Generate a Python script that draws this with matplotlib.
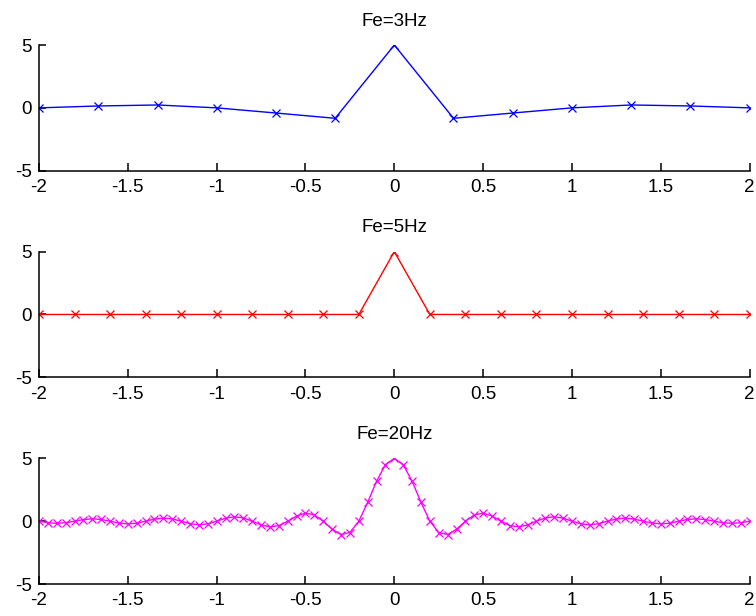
import matplotlib
matplotlib.use("Agg")
import matplotlib.pyplot as plt

plt.rcParams['font.family'] = ['Liberation Sans', 'DejaVu Sans']

# sampled pulse, Fe = 3 Hz
t3 = [-2.0, -1.667, -1.333, -1.0, -0.667, -0.333, 0.0,
      0.333, 0.667, 1.0, 1.333, 1.667, 2.0]
y3 = [0.0, 0.15, 0.23, 0.0, -0.41, -0.83, 5.0,
      -0.83, -0.41, 0.0, 0.23, 0.15, 0.0]

# Fe = 5 Hz
t5 = [-2.0, -1.8, -1.6, -1.4, -1.2, -1.0, -0.8, -0.6, -0.4, -0.2, 0.0,
      0.2, 0.4, 0.6, 0.8, 1.0, 1.2, 1.4, 1.6, 1.8, 2.0]
y5 = [0.0, 0.0, 0.0, 0.0, 0.0, 0.0, 0.0, 0.0, 0.0, 0.0, 5.0,
      0.0, 0.0, 0.0, 0.0, 0.0, 0.0, 0.0, 0.0, 0.0, 0.0]

# Fe = 20 Hz
t20 = [-2.00, -1.95, -1.90, -1.85, -1.80, -1.75, -1.70, -1.65, -1.60, -1.55,
       -1.50, -1.45, -1.40, -1.35, -1.30, -1.25, -1.20, -1.15, -1.10, -1.05,
       -1.00, -0.95, -0.90, -0.85, -0.80, -0.75, -0.70, -0.65, -0.60, -0.55,
       -0.50, -0.45, -0.40, -0.35, -0.30, -0.25, -0.20, -0.15, -0.10, -0.05,
       0.00,
       0.05, 0.10, 0.15, 0.20, 0.25, 0.30, 0.35, 0.40, 0.45, 0.50,
       0.55, 0.60, 0.65, 0.70, 0.75, 0.80, 0.85, 0.90, 0.95, 1.00,
       1.05, 1.10, 1.15, 1.20, 1.25, 1.30, 1.35, 1.40, 1.45, 1.50,
       1.55, 1.60, 1.65, 1.70, 1.75, 1.80, 1.85, 1.90, 1.95, 2.00]
y20 = [0.00, -0.12, -0.17, -0.12, 0.00, 0.13, 0.19, 0.14, 0.00, -0.15,
       -0.21, -0.16, 0.00, 0.17, 0.24, 0.18, 0.00, -0.20, -0.29, -0.21,
       0.00, 0.24, 0.35, 0.26, 0.00, -0.30, -0.45, -0.35, 0.00, 0.41,
       0.64, 0.50, 0.00, -0.64, -1.06, -0.90, 0.00, 1.50, 3.18, 4.50,
       5.00,
       4.50, 3.18, 1.50, 0.00, -0.90, -1.06, -0.64, 0.00, 0.50, 0.64,
       0.41, 0.00, -0.35, -0.45, -0.30, 0.00, 0.26, 0.35, 0.24, 0.00,
       -0.21, -0.29, -0.20, 0.00, 0.18, 0.24, 0.17, 0.00, -0.15, -0.21,
       -0.16, 0.00, 0.14, 0.19, 0.13, 0.00, -0.12, -0.17, -0.12, 0.00]

titles = ['Fe=3Hz', 'Fe=5Hz', 'Fe=20Hz']
colors = ['#0000ff', '#ff0000', '#ff00ff']
xticks = [-2, -1.5, -1, -0.5, 0, 0.5, 1, 1.5, 2]
xticklabels = ['-2', '-1.5', '-1', '-0.5', '0', '0.5', '1', '1.5', '2']
yticks = [-5, 0, 5]

fig = plt.figure(figsize=(7.56, 6.16), dpi=100)
bottoms = [0.7229, 0.3875, 0.0519]

for i, (t, y) in enumerate([(t3, y3), (t5, y5), (t20, y20)]):
    ax = fig.add_axes([0.0516, bottoms[i], 0.940, 0.204])
    ax.plot(t, y, color=colors[i], lw=1.0, marker='x', ms=6, mew=0.9)
    ax.set_xlim(-2, 2)
    ax.set_ylim(-5, 5)
    ax.set_xticks(xticks)
    ax.set_xticklabels(xticklabels)
    ax.set_yticks(yticks)
    ax.set_yticklabels([str(v) for v in yticks])
    ax.spines['top'].set_visible(False)
    ax.spines['right'].set_visible(False)
    ax.spines['left'].set_linewidth(1.1)
    ax.spines['bottom'].set_linewidth(1.1)
    ax.tick_params(axis='x', direction='in', length=6, width=1.1,
                   labelsize=13.5, pad=6)
    ax.tick_params(axis='y', direction='in', length=4.8, width=1.1,
                   labelsize=13.5, pad=5)
    ax.set_title(titles[i], fontsize=13.5, pad=14)
    ax.patch.set_visible(False)

fig.savefig('out.png', dpi=100)
